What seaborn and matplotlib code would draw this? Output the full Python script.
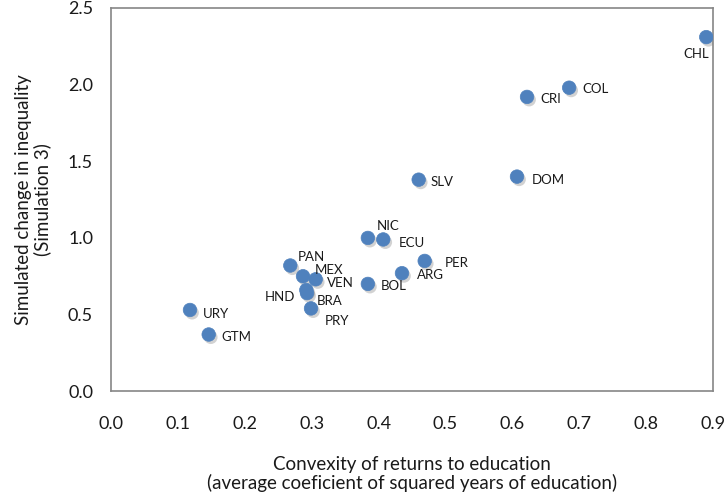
import pandas as pd
import matplotlib.pyplot as plt
import matplotlib.patheffects as pe
import seaborn as sns

# Data
countries = ['CHL', 'COL', 'CRI', 'DOM', 'SLV', 'NIC', 'ECU', 'PER', 'ARG', 'BOL',
             'PAN', 'MEX', 'VEN', 'HND', 'BRA', 'PRY', 'URY', 'GTM']
convexity = [0.890, 0.685, 0.622, 0.607, 0.460, 0.384, 0.407, 0.469, 0.435, 0.384,
             0.268, 0.287, 0.306, 0.292, 0.293, 0.299, 0.118, 0.146]
ineq_change = [2.31, 1.98, 1.92, 1.40, 1.38, 1.00, 0.99, 0.85, 0.77, 0.70,
               0.82, 0.75, 0.73, 0.66, 0.64, 0.54, 0.53, 0.37]

df = pd.DataFrame({'country': countries, 'x': convexity, 'y': ineq_change})

# label placement (pixel offsets from the marker, alignment)
label_pos = {
    'CHL': (-10, -17, 'center'), 'COL': (13, -1, 'left'), 'CRI': (13, -2, 'left'),
    'DOM': (15, -3, 'left'), 'SLV': (12, -2, 'left'), 'NIC': (9, 12, 'left'),
    'ECU': (16, -4, 'left'), 'PER': (20, -2, 'left'), 'ARG': (15, -2, 'left'),
    'BOL': (13, -2, 'left'), 'PAN': (7, 9, 'left'), 'MEX': (12, 6, 'left'),
    'VEN': (11, -4, 'left'), 'HND': (-11, -7, 'right'), 'BRA': (10, -8, 'left'),
    'PRY': (14, -13, 'left'), 'URY': (13, -4, 'left'), 'GTM': (13, -3, 'left'),
}

sns.set_style('white')
plt.rcParams['font.family'] = ['Lato', 'DejaVu Sans']

fig = plt.figure(figsize=(7.26, 4.99), dpi=100)
ax = fig.add_axes([0.153, 0.216, 0.829, 0.768])

sns.scatterplot(data=df, x='x', y='y', ax=ax, s=95, color='#4F81BD',
                edgecolor='#4F81BD', linewidth=0.5, zorder=3)
ax.collections[0].set_path_effects([
    pe.SimplePatchShadow(offset=(1.5, -2), shadow_rgbFace='#808080', alpha=0.35),
    pe.Normal()])

for _, r in df.iterrows():
    dx, dy, ha = label_pos[r['country']]
    ax.annotate(r['country'], (r['x'], r['y']), xytext=(dx, dy),
                textcoords='offset pixels', ha=ha, va='center',
                fontsize=9.5, color='#1a1a1a')

ax.set_xlim(0, 0.9)
ax.set_ylim(0, 2.5)
ax.set_xticks([i / 10 for i in range(10)])
ax.set_yticks([0, 0.5, 1.0, 1.5, 2.0, 2.5])
ax.xaxis.set_major_formatter(plt.FuncFormatter(lambda v, p: f'{v:.1f}'))
ax.yaxis.set_major_formatter(plt.FuncFormatter(lambda v, p: f'{v:.1f}'))
ax.tick_params(axis='both', length=0, labelsize=13, colors='#1a1a1a')
ax.tick_params(axis='x', pad=18)
ax.tick_params(axis='y', pad=13)

for sp in ax.spines.values():
    sp.set_color('#868686')
    sp.set_linewidth(1.2)

ax.set_xlabel('Convexity of returns to education\n(average coeficient of squared years of education)',
              fontsize=13.5, color='#1a1a1a', labelpad=17, linespacing=1.1)
ax.set_ylabel('Simulated change in inequality\n(Simulation 3)',
              fontsize=13.5, color='#1a1a1a', va='center', linespacing=1.1)
ax.yaxis.set_label_coords(-0.13, 0.5)

fig.savefig('out.png', dpi=100)
